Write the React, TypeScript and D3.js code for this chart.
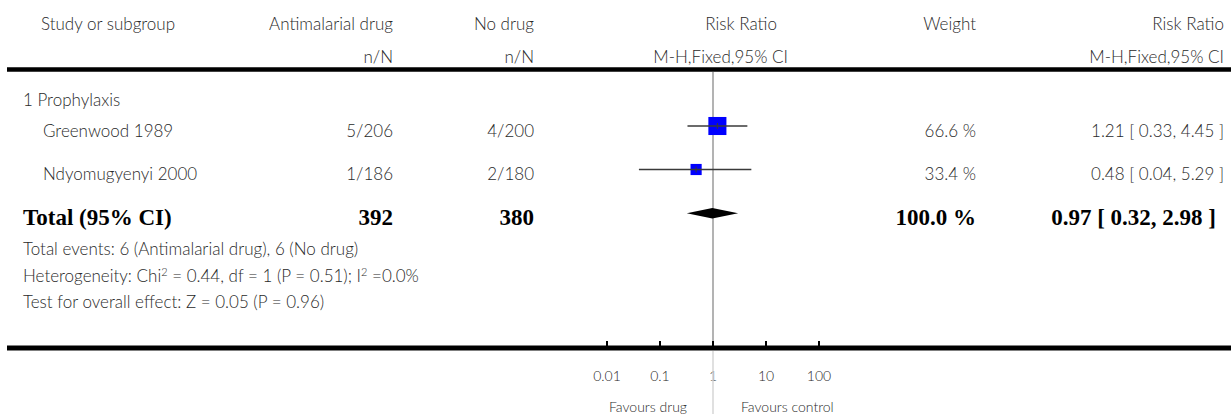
import React from "react";
import * as d3 from "d3";

// studies in the subgroup
const studyNames = ["Greenwood 1989", "Ndyomugyenyi 2000"];
const drugCounts = ["5/206", "1/186"];
const controlCounts = ["4/200", "2/180"];
const riskRatios = [1.21, 0.48];
const ciLower = [0.33, 0.04];
const ciUpper = [4.45, 5.29];
const weights = [66.6, 33.4];

// pooled result
const totalDrug = 392;
const totalControl = 380;
const pooledRR = 0.97;
const pooledLower = 0.32;
const pooledUpper = 2.98;
const pooledWeight = 100.0;

const axisTicks = [0.01, 0.1, 1, 10, 100];
const axisTickLabels = ["0.01", "0.1", "1", "10", "100"];

const W = 1231;
const H = 414;
const SANS = "Lato, 'Open Sans', sans-serif";
const SERIF = "'Liberation Serif', 'DejaVu Serif', serif";
const TXT = "#2a2a2a";

const App: React.FC = () => {
    // log scale of the forest plot
    const x = d3.scaleLog().domain([0.01, 100]).range([607, 819]);
    const boxSize = d3.scalePow().exponent(0.7).domain([0, 100]).range([0, 24]);

    const rowBase = [137, 180]; // text baselines of study rows
    const rowMid = [126, 169.5]; // marker centres
    const totalMid = 213.3;
    const axisY = 348;

    const fmt = (v: number) => v.toFixed(2);
    const fs = 17;

    const diamond = d3.line<[number, number]>()([
        [x(pooledLower), totalMid],
        [x(pooledRR), totalMid - 5.3],
        [x(pooledUpper), totalMid],
        [x(pooledRR), totalMid + 5.3],
    ]) + "Z";

    return (
        <svg
            width={W}
            height={H}
            style={{ position: "absolute", left: 0, top: 0, background: "#fff" }}
        >
            <g fontFamily={SANS} fontSize={fs} fill={TXT} fontWeight={300}>
                {/* header */}
                <text x={41} y={30}>Study or subgroup</text>
                <text x={393} y={30} textAnchor="end">Antimalarial drug</text>
                <text x={534} y={30} textAnchor="end">No drug</text>
                <text x={777} y={30} textAnchor="end">Risk Ratio</text>
                <text x={976} y={30} textAnchor="end">Weight</text>
                <text x={1224} y={30} textAnchor="end">Risk Ratio</text>
                <text x={393} y={63} textAnchor="end">n/N</text>
                <text x={534} y={63} textAnchor="end">n/N</text>
                <text x={788} y={63} textAnchor="end">M-H,Fixed,95% CI</text>
                <text x={1224} y={63} textAnchor="end">M-H,Fixed,95% CI</text>

                <text x={23} y={106}>1 Prophylaxis</text>

                {studyNames.map((s, i) => (
                    <g key={s}>
                        <text x={43} y={rowBase[i]}>{s}</text>
                        <text x={393} y={rowBase[i]} textAnchor="end">{drugCounts[i]}</text>
                        <text x={534} y={rowBase[i]} textAnchor="end">{controlCounts[i]}</text>
                        <text x={976} y={rowBase[i]} textAnchor="end">{weights[i].toFixed(1)} %</text>
                        <text x={1224} y={rowBase[i]} textAnchor="end">
                            {fmt(riskRatios[i])} [ {fmt(ciLower[i])}, {fmt(ciUpper[i])} ]
                        </text>
                    </g>
                ))}

                <text x={23} y={255}>Total events: 6 (Antimalarial drug), 6 (No drug)</text>
                <text x={23} y={282}>
                    Heterogeneity: Chi
                    <tspan fontSize={11} dy={-6}>2</tspan>
                    <tspan dy={6}> = 0.44, df = 1 (P = 0.51); I</tspan>
                    <tspan fontSize={11} dy={-6}>2</tspan>
                    <tspan dy={6}> =0.0%</tspan>
                </text>
                <text x={23} y={308}>Test for overall effect: Z = 0.05 (P = 0.96)</text>

                {/* axis labels */}
                {axisTicks.map((t, i) => (
                    <text key={t} x={x(t)} y={381} textAnchor="middle" fontSize={14}>
                        {axisTickLabels[i]}
                    </text>
                ))}
                <text x={x(1) - 26} y={412} textAnchor="end" fontSize={14}>Favours drug</text>
                <text x={x(1) + 28} y={412} fontSize={14}>Favours control</text>
            </g>

            {/* total row */}
            <g fontFamily={SERIF} fontSize={23} fontWeight="bold" fill="#000">
                <text x={23} y={225}>Total (95% CI)</text>
                <text x={393} y={225} textAnchor="end">{totalDrug}</text>
                <text x={534} y={225} textAnchor="end">{totalControl}</text>
                <text x={976} y={225} textAnchor="end">{pooledWeight.toFixed(1)} %</text>
                <text x={1216} y={225} textAnchor="end">
                    {fmt(pooledRR)} [ {fmt(pooledLower)}, {fmt(pooledUpper)} ]
                </text>
            </g>

            {/* rules */}
            <line x1={7} x2={W} y1={69.5} y2={69.5} stroke="#000" strokeWidth={4.5} />

            {/* line of no effect */}
            <line x1={x(1)} x2={x(1)} y1={72} y2={axisY - 3} stroke="#9a9a9a" strokeWidth={1.5} />
            <line x1={x(1)} x2={x(1)} y1={axisY + 3} y2={H} stroke="#d6d6d6" strokeWidth={1.5} />

            {/* study markers */}
            {studyNames.map((s, i) => {
                const sz = boxSize(weights[i]);
                const cx = x(riskRatios[i]);
                return (
                    <g key={s}>
                        <rect
                            x={cx - sz / 2}
                            y={rowMid[i] - sz / 2}
                            width={sz}
                            height={sz}
                            fill="#0000ff"
                        />
                        <line
                            x1={x(ciLower[i])}
                            x2={x(ciUpper[i])}
                            y1={rowMid[i]}
                            y2={rowMid[i]}
                            stroke="#3a3a3a"
                            strokeWidth={1.5}
                        />
                        <line
                            x1={cx}
                            x2={cx}
                            y1={rowMid[i] - 3}
                            y2={rowMid[i] + 3}
                            stroke="#3a3a3a"
                            strokeWidth={1}
                        />
                    </g>
                );
            })}

            <path d={diamond} fill="#000" />

            {/* bottom axis */}
            <line x1={7} x2={W} y1={axisY} y2={axisY} stroke="#000" strokeWidth={5} />
            {axisTicks.map((t) => (
                <line
                    key={t}
                    x1={x(t)}
                    x2={x(t)}
                    y1={341}
                    y2={axisY}
                    stroke="#000"
                    strokeWidth={2}
                />
            ))}
        </svg>
    );
};

export default App;
